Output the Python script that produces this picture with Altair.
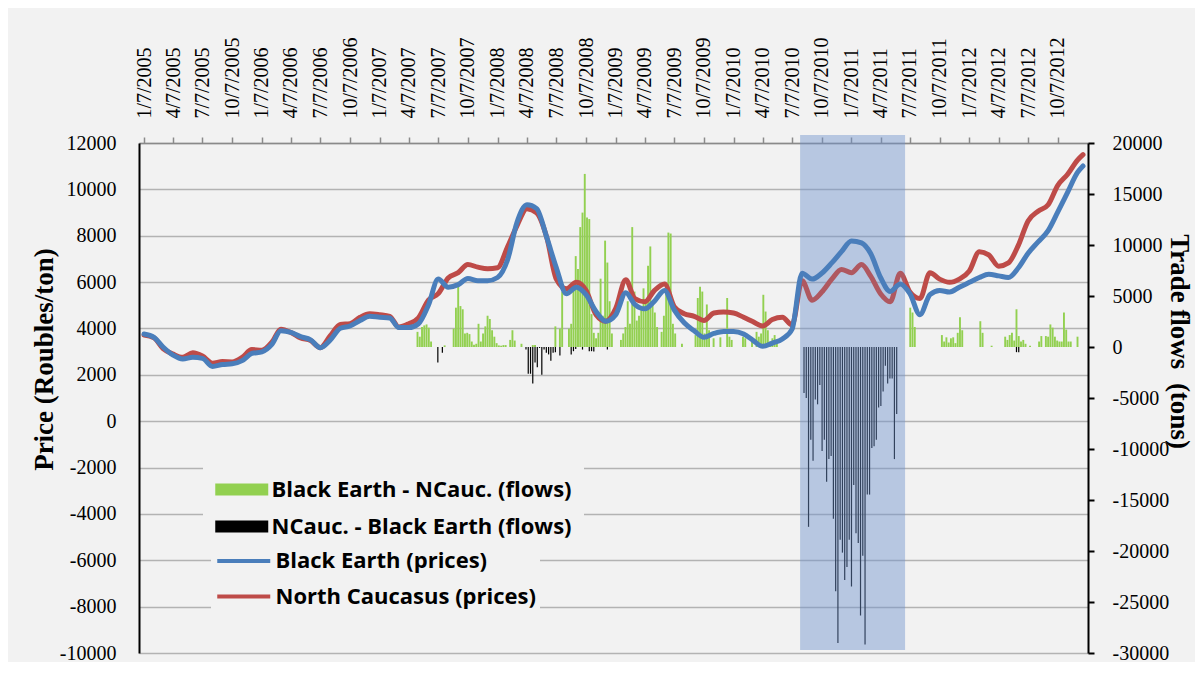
import altair as alt
import pandas as pd

# ---------------- data ----------------
# monthly price samples (7th of every month, Jan 2005 .. Dec 2012) + last point
price_dates = [f"{2005 + i // 12}-{i % 12 + 1:02d}-07" for i in range(96)] + ["2012-12-24"]

black_earth = [
    3757, 3618, 3199, 2851, 2683, 2753, 2711, 2363, 2446, 2474, 2614, 2920,
    2990, 3311, 3897, 3827, 3646, 3506, 3172, 3506, 4008, 4106, 4343, 4524,
    4483, 4455, 4036, 4036, 4204, 5013, 6128, 5780, 5891, 6156, 6058, 6058,
    6198, 6965, 8569, 9336, 9169, 7941, 6616, 5500, 5780, 5459, 4734, 4315,
    4594, 5542, 5040, 4845, 5180, 5640, 4803, 4245, 3897, 3618, 3785, 3869,
    3869, 3757, 3500, 3227, 3366, 3548, 3966, 6379, 6128, 6379, 6826, 7314,
    7774, 7691, 7244, 6198, 5598, 5919, 5500, 4594, 5459, 5640, 5570, 5780,
    5989, 6198, 6337, 6268, 6198, 6617, 7244, 7732, 8220, 9029, 9894, 10731,
    11010,
]
north_caucasus = [
    3716, 3590, 3130, 2893, 2753, 2948, 2809, 2502, 2572, 2558, 2753, 3088,
    3060, 3409, 3966, 3827, 3590, 3478, 3172, 3688, 4176, 4204, 4483, 4636,
    4594, 4524, 4064, 4204, 4455, 5222, 5500, 6178, 6407, 6756, 6644, 6574,
    6616, 7523, 8430, 9169, 8987, 7941, 6128, 5710, 5989, 5640, 4594, 4315,
    4873, 6100, 5291, 5152, 5640, 5919, 4943, 4636, 4524, 4343, 4664, 4706,
    4664, 4483, 4300, 4106, 4385, 4483, 4148, 6058, 5222, 5570, 6128, 6547,
    6407, 6756, 6268, 5500, 5152, 6379, 5570, 5291, 6407, 6128, 5989, 6128,
    6477, 7314, 7175, 6686, 6826, 7593, 8639, 9057, 9336, 10173, 10661, 11261,
    11498,
]

# weekly trade flows (week number counted from 7 Jan 2005)
green_weeks = [121, 122, 123, 124, 125, 126, 127, 133,
               137, 138, 139, 140, 141, 142, 143, 144, 145, 146, 147, 148, 149, 150,
               151, 152, 153, 154, 155, 156, 157, 158, 159, 160, 162, 163, 164, 167, 172, 173,
               182, 184, 185, 188, 189, 190, 191, 192, 193, 194, 195, 196, 197, 198, 199,
               200, 201, 202, 203, 204, 205, 206, 207,
               211, 212, 213, 214, 215, 216, 217, 218, 219, 220, 221, 222, 223, 224, 225,
               226, 227, 229, 230, 231, 232, 233, 234, 235, 238,
               244, 245, 246, 247, 248, 249, 250, 252, 255, 258, 259, 260, 265, 266, 269,
               271, 272, 273, 274, 275, 276, 277, 278, 279, 280,
               339, 340, 341, 353, 354, 355, 356, 357, 358, 359, 360, 361, 362, 370, 371,
               375, 381, 382, 383, 384, 385, 386, 387, 388, 389, 390, 392, 396, 397, 399,
               400, 401, 402, 403, 404, 405, 406, 407, 408, 409, 410, 413]
green_vals = [1485, 1011, 1959, 2117, 2212, 1896, 537, 158,
              1801, 3855, 6383, 4013, 3697, 1327, 1390, 1264, 537, 221, 316, 2275, 537, 1327,
              2022, 3065, 2749, 1643, 1011, 379, 158, 126, 190, 190, 695, 1643, 632, 316, 190, 190,
              2022, 1801, 5435, 1801, 2275, 6383, 8911, 7647, 11755, 13177, 16969, 12703, 12545, 3223, 1390,
              853, 1390, 6699, 3065, 10428, 8279, 4487, 1327,
              695, 1327, 1959, 4487, 2275, 11755, 5435, 2591, 3065, 3855, 5751, 4487, 7963, 9859, 4487,
              3381, 1959, 1485, 3065, 5435, 11218, 11123, 2275, 1327, 316,
              1169, 4803, 5909, 5435, 1327, 4171, 1643, 853, 948, 4803, 1011, 695, 1011, 853, 695,
              1485, 1011, 1327, 5119, 3476, 1643, 537, 853, 1169, 379,
              3855, 3381, 1959, 1169, 537, 948, 442, 853, 948, 379, 1390, 2907, 1643, 2528, 1390,
              126, 1011, 695, 1169, 1390, 632, 3697, 1074, 537, 695, 316, 126, 537, 1074, 1074,
              1011, 2212, 1896, 1011, 632, 537, 537, 3381, 1706, 537, 537, 1011]

black_weeks = [130, 132, 169, 170, 171, 172, 173, 174, 175, 176, 177, 178, 179, 180, 181, 182,
               184, 189, 190, 191, 194, 197, 198, 199, 205] + list(range(292, 334)) + [386, 387]
black_vals = [-1517, -570, -253, -2623, -2623, -3571, -1517, -1991, -95, -2718, -253, -569,
              -727, -1359, -569, -506, -822, -727, -411, -190, -253, -411, -411, -442, -253,
              -4520, -4990, -17630, -9100, -11150, -5150, -5620, -3730, -10200, -9100, -13210,
              -10990, -10680, -16840, -23950, -29010, -18890, -20160, -22850, -21580, -18890,
              -23480, -13530, -18260, -19210, -26320, -20470, -29170, -14470, -14470, -9890,
              -9730, -9100, -5940, -5780, -4360, -1830, -3570, -3100, -3100, -10990, -6570,
              -506, -506]

# highlighted period (price-axis units for its vertical extent)
shade_start, shade_end = "2010-08-01", "2011-06-22"
shade_top, shade_bottom = 12345, -9870

tick_dates = [(y, m) for y in range(2005, 2013) for m in (1, 4, 7, 10)]

S_GREEN = "Black Earth - NCauc. (flows)"
S_BLACK = "NCauc. - Black Earth (flows)"
S_BLUE = "Black Earth (prices)"
S_RED = "North Caucasus (prices)"

# ---------------- frames ----------------
start = pd.Timestamp("2005-01-07")
def week_date(w):
    return (start + pd.Timedelta(weeks=w)).strftime("%Y-%m-%d")

prices = pd.DataFrame({
    "date": price_dates * 2,
    "price": black_earth + north_caucasus,
    "series": [S_BLUE] * len(price_dates) + [S_RED] * len(price_dates),
})
flows = pd.DataFrame({
    "date": [week_date(w) for w in green_weeks] + [week_date(w) for w in black_weeks],
    "flow": green_vals + black_vals,
    "series": [S_GREEN] * len(green_weeks) + [S_BLACK] * len(black_weeks),
})
shade = pd.DataFrame({"start": [shade_start], "end": [shade_end],
                      "top": [shade_top], "bottom": [shade_bottom]})

# ---------------- encodings ----------------
SERIF = "Liberation Serif"

x_scale = alt.Scale(type="utc", domain=[alt.DateTime(year=2005, month=1, date=7, utc=True),
                                        alt.DateTime(year=2012, month=12, date=24, utc=True)])
x_axis = alt.Axis(
    orient="top",
    values=[alt.DateTime(year=y, month=m, date=7, utc=True) for y, m in tick_dates],
    format="%-m/%-d/%Y", labelAngle=270, labelAlign="left", labelBaseline="middle",
    labelPadding=19, labelOverlap=False, labelFlush=False, labelBound=False,
    labelFont=SERIF, labelFontSize=20, labelColor="black",
    tickSize=6, tickColor="#8A8A8A", tickWidth=1.5,
    domainColor="#8A8A8A", domainWidth=1.5, grid=False, title=None,
)

price_scale = alt.Scale(domain=[-10000, 12000], nice=False, zero=False)
flow_scale = alt.Scale(domain=[-30000, 20000], nice=False, zero=False)

left_axis = alt.Axis(
    orient="left", values=list(range(-10000, 12001, 2000)),
    labelExpr="'' + datum.value", ticks=False, labelPadding=23,
    labelFont=SERIF, labelFontSize=20, labelColor="black", labelAlign="right",
    domainColor="black", domainWidth=2,
    grid=True, gridColor="#B3B3B3", gridWidth=1.5,
    title="Price (Roubles/ton)", titleFont=SERIF, titleFontSize=27, titleFontWeight="bold",
    titleColor="black", titleAngle=270, titleX=-95, titleY=216,
    titleAlign="center", titleBaseline="middle",
)
right_axis = alt.Axis(
    orient="right", values=list(range(-30000, 20001, 5000)),
    labelExpr="'' + datum.value", tickSize=6, tickColor="black", tickWidth=2,
    labelPadding=18, labelFont=SERIF, labelFontSize=20, labelColor="black", labelAlign="left",
    domainColor="black", domainWidth=2, grid=False,
    title="Trade flows\u00a0 (tons)", titleFont=SERIF, titleFontSize=27, titleFontWeight="bold",
    titleColor="black", titleAngle=90, titleX=90, titleY=198,
    titleAlign="center", titleBaseline="middle",
)

fill_scale = alt.Scale(domain=[S_GREEN, S_BLACK], range=["#92D050", "#000000"])
stroke_scale = alt.Scale(domain=[S_BLUE, S_RED], range=["#4A7EBB", "#BE4B48"])

LEG_FONT = "Open Sans"
fill_legend = alt.Legend(
    orient="none", legendX=64, legendY=321, title=None, padding=12,
    fillColor="#F2F2F2", symbolType="M-1,-0.46H3V0.46H-1Z", symbolSize=702,
    symbolStrokeWidth=0, labelOffset=29.5, rowPadding=12,
    labelFont=LEG_FONT, labelFontWeight="bold", labelFontSize=22, labelColor="black",
    labelLimit=500,
)
stroke_legend = alt.Legend(
    orient="none", legendX=72, legendY=398.5, title=None, padding=4,
    fillColor="#F2F2F2", symbolType="M-1,0H3", symbolSize=702,
    symbolStrokeWidth=4, labelOffset=29.5, rowPadding=8.5,
    labelFont=LEG_FONT, labelFontWeight="bold", labelFontSize=22, labelColor="black",
    labelLimit=500,
)

SHADE = "#6F93CF"

base_flow = alt.Chart(flows)
green = base_flow.transform_filter(alt.datum.series == S_GREEN).mark_bar(size=1.9).encode(
    x=alt.X("date:T", scale=x_scale, axis=x_axis),
    y=alt.Y("flow:Q", scale=flow_scale, axis=right_axis),
    fill=alt.Fill("series:N", scale=fill_scale, legend=fill_legend),
)
black = base_flow.transform_filter(alt.datum.series == S_BLACK).mark_bar(size=1.2).encode(
    x=alt.X("date:T", scale=x_scale, axis=x_axis),
    y=alt.Y("flow:Q", scale=flow_scale, axis=None),
    fill=alt.Fill("series:N", scale=fill_scale, legend=fill_legend),
)

base_shade = alt.Chart(shade)
shade_under = base_shade.mark_rect(fill=SHADE, opacity=0.33).encode(
    x=alt.X("start:T", scale=x_scale, axis=x_axis),
    x2="end:T",
    y=alt.Y("top:Q", scale=price_scale, axis=None),
    y2="bottom:Q",
)

base_price = alt.Chart(prices)
red = base_price.transform_filter(alt.datum.series == S_RED).mark_line(
    strokeWidth=5, strokeJoin="round", strokeCap="round", interpolate="monotone"
).encode(
    x=alt.X("date:T", scale=x_scale, axis=x_axis),
    y=alt.Y("price:Q", scale=price_scale, axis=left_axis),
    stroke=alt.Stroke("series:N", scale=stroke_scale, legend=stroke_legend),
)
shade_over = base_shade.mark_rect(fill=SHADE, opacity=0.18).encode(
    x=alt.X("start:T", scale=x_scale, axis=x_axis),
    x2="end:T",
    y=alt.Y("top:Q", scale=price_scale, axis=None),
    y2="bottom:Q",
)
blue = base_price.transform_filter(alt.datum.series == S_BLUE).mark_line(
    strokeWidth=5, strokeJoin="round", strokeCap="round", interpolate="monotone"
).encode(
    x=alt.X("date:T", scale=x_scale, axis=x_axis),
    y=alt.Y("price:Q", scale=price_scale, axis=None),
    stroke=alt.Stroke("series:N", scale=stroke_scale, legend=stroke_legend),
)

chart = alt.layer(green, black, shade_under, red, shade_over, blue).resolve_scale(
    y="independent"
).properties(
    width=949, height=510,
    padding={"left": 131, "top": 135, "right": 107, "bottom": 9},
    autosize=alt.AutoSizeParams(type="none"),
    background="#F2F2F2",
).configure_view(stroke=None)

chart.save("out.html", embed_options={"renderer": "svg", "actions": False})
